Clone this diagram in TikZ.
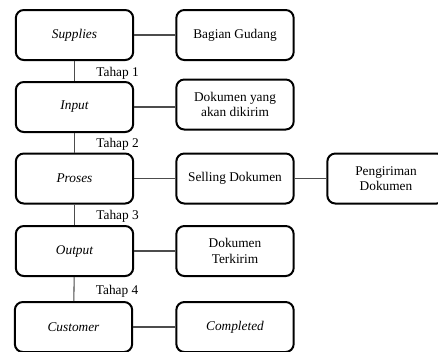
\documentclass[tikz,border=0pt]{standalone}
\usepackage{fontspec}
\setmainfont{Liberation Serif}
\usepackage{tikz}
\usetikzlibrary{positioning, arrows.meta}

\begin{document}
\begin{tikzpicture}[
    x=0.75pt, y=-0.75pt,
    box/.style={rectangle, rounded corners=6pt, draw, line width=1.5pt,
                minimum width=88pt, minimum height=37.5pt, align=center,
                font=\fontsize{10}{11.5}\selectfont, inner sep=2pt},
    ibox/.style={box, font=\fontsize{10}{11.5}\selectfont\itshape},
    conn/.style={draw=black!70, line width=0.8pt},
    tahap/.style={anchor=west, xshift=13pt, yshift=-1.5pt, inner sep=3pt,
                  font=\fontsize{10}{11.5}\selectfont}
]
  \useasboundingbox (0,0) rectangle (438,351);

  % left column
  \node[ibox] (supplies) at (74.5,35) {Supplies};
  \node[ibox] (input)    at (74.5,107) {Input};
  \node[ibox] (proses)   at (74.5,178.5) {Proses};
  \node[ibox] (output)   at (74.5,251) {Output};
  \node[ibox] (customer) at (73.5,327) {Customer};

  % right column
  \node[box]  (gudang)   at (235,35) {Bagian Gudang};
  \node[box]  (dokumen)  at (235,104.5) {Dokumen yang\\akan dikirim};
  \node[box]  (selling)  at (235,178.5) {Selling Dokumen};
  \node[box]  (terkirim) at (235,251) {Dokumen\\Terkirim};
  \node[ibox] (completed) at (235,327) {Completed};
  \node[box]  (kirim)    at (386,178.5) {Pengiriman\\Dokumen};

  \draw[conn] (supplies) -- node[tahap] {Tahap 1} (input);
  \draw[conn] (input) -- node[tahap] {Tahap 2} (proses);
  \draw[conn] (proses) -- node[tahap] {Tahap 3} (output);
  \draw[conn] (output) -- node[tahap] {Tahap 4} (customer);

  \draw[conn] (supplies) -- (gudang);
  \draw[conn] (input.east) -- (input.east -| dokumen.west);
  \draw[conn] (proses) -- (selling);
  \draw[conn] (selling) -- (kirim);
  \draw[conn] (output) -- (terkirim);
  \draw[conn] (customer) -- (completed);
\end{tikzpicture}
\end{document}
